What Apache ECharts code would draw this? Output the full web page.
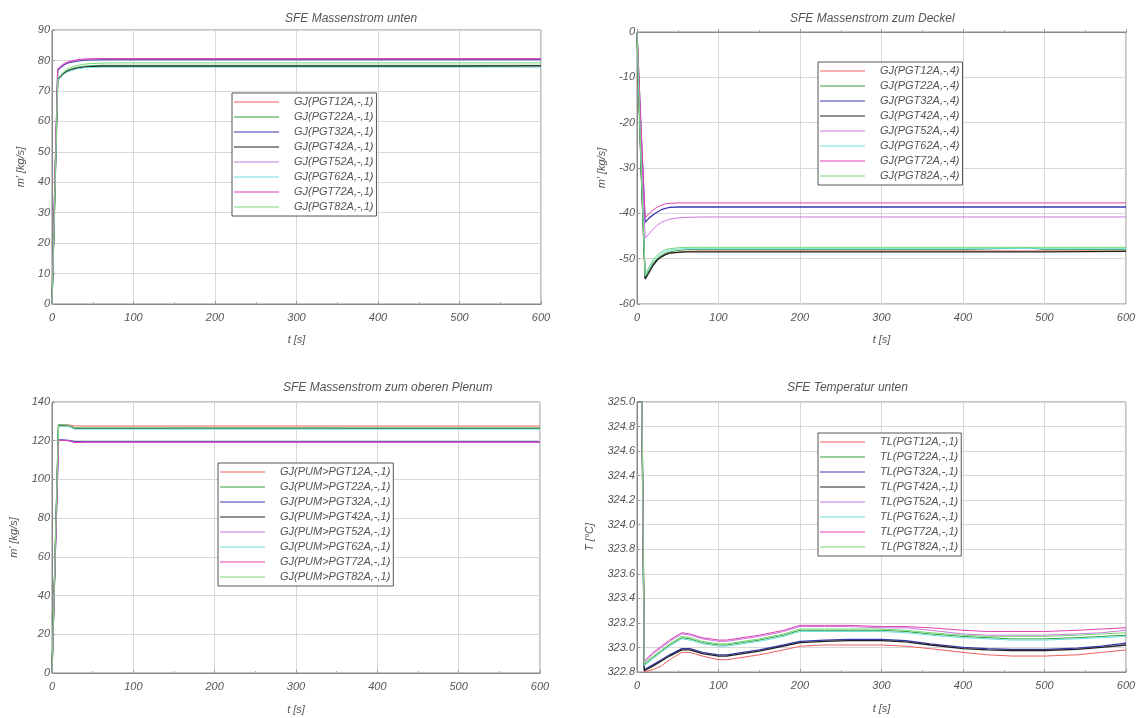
<!DOCTYPE html>
<html><head><meta charset="utf-8">
<script src="https://cdn.jsdelivr.net/npm/echarts@6/dist/echarts.min.js"></script>
<style>html,body{margin:0;padding:0;background:#fff}#c{width:1143px;height:718px}</style>
</head><body><div id="c"></div>
<script>
// ---------- Data ----------
const titles = ['SFE Massenstrom unten', 'SFE Massenstrom zum Deckel', 'SFE Massenstrom zum oberen Plenum', 'SFE Temperatur unten'];
const yNames = ["m' [kg/s]", "m' [kg/s]", "m' [kg/s]", 'T [°C]'];
const xName = 't [s]';
const names1 = ['GJ(PGT12A,-,1)','GJ(PGT22A,-,1)','GJ(PGT32A,-,1)','GJ(PGT42A,-,1)','GJ(PGT52A,-,1)','GJ(PGT62A,-,1)','GJ(PGT72A,-,1)','GJ(PGT82A,-,1)'];
const names2 = ['GJ(PGT12A,-,4)','GJ(PGT22A,-,4)','GJ(PGT32A,-,4)','GJ(PGT42A,-,4)','GJ(PGT52A,-,4)','GJ(PGT62A,-,4)','GJ(PGT72A,-,4)','GJ(PGT82A,-,4)'];
const names3 = ['GJ(PUM>PGT12A,-,1)','GJ(PUM>PGT22A,-,1)','GJ(PUM>PGT32A,-,1)','GJ(PUM>PGT42A,-,1)','GJ(PUM>PGT52A,-,1)','GJ(PUM>PGT62A,-,1)','GJ(PUM>PGT72A,-,1)','GJ(PUM>PGT82A,-,1)'];
const names4 = ['TL(PGT12A,-,1)','TL(PGT22A,-,1)','TL(PGT32A,-,1)','TL(PGT42A,-,1)','TL(PGT52A,-,1)','TL(PGT62A,-,1)','TL(PGT72A,-,1)','TL(PGT82A,-,1)'];

// Panel 1: SFE Massenstrom unten
const t1 = [0, 3, 7, 10, 15, 20, 30, 40, 50, 60, 80, 100, 200, 300, 400, 500, 600];
const p1_12 = [0, 30, 73.6, 74.6, 75.9, 76.7, 77.5, 77.9, 78.0, 78.1, 78.1, 78.1, 78.1, 78.1, 78.1, 78.1, 78.1];
const p1_22 = [0, 31, 73.8, 74.8, 76.0, 76.9, 77.7, 78.1, 78.3, 78.4, 78.4, 78.4, 78.4, 78.4, 78.4, 78.4, 78.4];
const p1_32 = [0, 34, 76.8, 77.6, 78.6, 79.2, 79.8, 80.1, 80.2, 80.3, 80.3, 80.3, 80.3, 80.3, 80.3, 80.3, 80.3];
const p1_42 = [0, 30, 73.5, 74.5, 75.8, 76.6, 77.4, 77.8, 78.0, 78.1, 78.1, 78.1, 78.1, 78.1, 78.1, 78.1, 78.2];
const p1_52 = [0, 35, 77.0, 77.8, 78.8, 79.4, 80.0, 80.3, 80.4, 80.5, 80.5, 80.5, 80.5, 80.5, 80.5, 80.5, 80.5];
const p1_62 = [0, 30, 73.4, 74.4, 75.6, 76.4, 77.2, 77.6, 77.7, 77.8, 77.8, 77.8, 77.8, 77.8, 77.8, 77.8, 77.8];
const p1_72 = [0, 36, 77.2, 78.0, 79.0, 79.6, 80.2, 80.5, 80.6, 80.6, 80.6, 80.6, 80.6, 80.6, 80.6, 80.6, 80.6];
const p1_82 = [0, 31, 74.0, 75.0, 76.4, 77.4, 78.3, 78.8, 79.0, 79.1, 79.2, 79.2, 79.2, 79.2, 79.2, 79.2, 79.2];

// Panel 2: SFE Massenstrom zum Deckel
const t2 = [0, 5, 10, 15, 20, 25, 30, 35, 40, 50, 60, 80, 100, 200, 300, 400, 480, 500, 600];
const p2_12 = [0, -30, -54.0, -52.5, -51.0, -50.0, -49.4, -49.0, -48.8, -48.6, -48.4, -48.3, -48.3, -48.3, -48.3, -48.3, -48.3, -48.3, -48.3];
const p2_22 = [0, -30, -54.2, -52.6, -51.0, -50.0, -49.3, -48.8, -48.5, -48.2, -48.0, -48.0, -48.0, -48.0, -48.0, -48.0, -47.6, -48.0, -48.0];
const p2_32 = [0, -22, -42.0, -41.0, -40.3, -39.7, -39.2, -38.9, -38.7, -38.6, -38.6, -38.6, -38.6, -38.6, -38.6, -38.6, -38.6, -38.6, -38.6];
const p2_42 = [0, -30, -54.5, -53.0, -51.4, -50.3, -49.6, -49.1, -48.8, -48.6, -48.5, -48.5, -48.5, -48.5, -48.5, -48.5, -48.5, -48.5, -48.4];
const p2_52 = [0, -24, -45.5, -44.5, -43.4, -42.6, -42.0, -41.6, -41.3, -41.0, -40.9, -40.8, -40.8, -40.8, -40.8, -40.8, -40.8, -40.8, -40.8];
const p2_62 = [0, -29, -53.8, -52.2, -50.6, -49.6, -48.9, -48.4, -48.1, -47.9, -47.8, -47.8, -47.8, -47.8, -47.8, -47.8, -47.8, -47.8, -47.8];
const p2_72 = [0, -21, -41.0, -40.0, -39.2, -38.6, -38.2, -37.9, -37.8, -37.7, -37.7, -37.7, -37.7, -37.7, -37.7, -37.7, -37.7, -37.7, -37.7];
const p2_82 = [0, -29, -53.5, -51.8, -50.2, -49.2, -48.5, -48.0, -47.8, -47.6, -47.5, -47.5, -47.5, -47.5, -47.5, -47.5, -47.5, -47.5, -47.5];

// Panel 3: SFE Massenstrom zum oberen Plenum
const t3 = [0, 8, 20, 28, 40, 100, 200, 300, 400, 500, 600];
const p3_12 = [0, 128.2, 128.2, 127.6, 127.6, 127.6, 127.6, 127.6, 127.6, 127.6, 127.6];
const p3_22 = [0, 128.0, 127.8, 126.5, 126.5, 126.5, 126.5, 126.5, 126.5, 126.5, 126.5];
const p3_32 = [0, 120.5, 120.2, 119.5, 119.5, 119.5, 119.5, 119.5, 119.5, 119.5, 119.5];
const p3_42 = [0, 128.0, 127.8, 126.4, 126.4, 126.4, 126.5, 126.5, 126.4, 126.4, 126.4];
const p3_52 = [0, 120.4, 120.0, 119.2, 119.3, 119.3, 119.3, 119.3, 119.3, 119.3, 119.3];
const p3_62 = [0, 127.5, 127.5, 126.0, 126.0, 126.0, 126.0, 126.0, 126.0, 126.0, 126.0];
const p3_72 = [0, 120.3, 120.0, 119.0, 119.2, 119.2, 119.2, 119.2, 119.2, 119.2, 119.2];
const p3_82 = [0, 128.3, 128.0, 126.7, 126.7, 126.7, 126.7, 126.7, 126.7, 126.7, 126.7];

// Panel 4: SFE Temperatur unten
const t4 = [0, 6, 9, 20, 30, 40, 55, 65, 80, 100, 110, 130, 150, 180, 200, 230, 260, 300, 330, 360, 400, 430, 460, 500, 540, 570, 600];
const p4_12 = [325.0, 325.0, 322.80, 322.82, 322.85, 322.90, 322.96, 322.96, 322.93, 322.90, 322.90, 322.92, 322.94, 322.98, 323.01, 323.02, 323.02, 323.02, 323.01, 322.99, 322.96, 322.94, 322.93, 322.93, 322.94, 322.96, 322.98];
const p4_22 = [325.0, 325.0, 322.86, 322.92, 322.97, 323.02, 323.08, 323.07, 323.04, 323.02, 323.02, 323.04, 323.06, 323.10, 323.14, 323.14, 323.14, 323.14, 323.13, 323.11, 323.09, 323.08, 323.07, 323.07, 323.08, 323.09, 323.10];
const p4_32 = [325.0, 325.0, 322.82, 322.86, 322.90, 322.94, 322.99, 322.99, 322.96, 322.94, 322.94, 322.96, 322.98, 323.02, 323.05, 323.06, 323.065, 323.065, 323.055, 323.03, 323.00, 322.99, 322.985, 322.985, 322.995, 323.01, 323.035];
const p4_42 = [325.0, 325.0, 322.81, 322.85, 322.89, 322.93, 322.98, 322.98, 322.95, 322.93, 322.93, 322.95, 322.97, 323.01, 323.04, 323.05, 323.055, 323.055, 323.045, 323.02, 322.99, 322.98, 322.975, 322.975, 322.985, 323.00, 323.02];
const p4_52 = [325.0, 325.0, 322.88, 322.95, 323.00, 323.05, 323.11, 323.10, 323.07, 323.05, 323.05, 323.07, 323.09, 323.13, 323.17, 323.17, 323.17, 323.16, 323.16, 323.14, 323.11, 323.10, 323.10, 323.10, 323.11, 323.12, 323.14];
const p4_62 = [325.0, 325.0, 322.85, 322.91, 322.96, 323.01, 323.07, 323.06, 323.03, 323.01, 323.01, 323.03, 323.05, 323.09, 323.13, 323.13, 323.13, 323.13, 323.12, 323.10, 323.08, 323.07, 323.06, 323.06, 323.07, 323.08, 323.09];
const p4_72 = [325.0, 325.0, 322.89, 322.96, 323.01, 323.06, 323.12, 323.11, 323.08, 323.06, 323.06, 323.08, 323.10, 323.14, 323.18, 323.18, 323.18, 323.17, 323.17, 323.16, 323.14, 323.13, 323.13, 323.13, 323.14, 323.15, 323.16];
const p4_82 = [325.0, 325.0, 322.87, 322.93, 322.98, 323.03, 323.09, 323.08, 323.05, 323.03, 323.03, 323.05, 323.07, 323.11, 323.15, 323.15, 323.15, 323.15, 323.14, 323.12, 323.10, 323.09, 323.09, 323.09, 323.10, 323.11, 323.12];

const colors = ['#f06060', '#30a040', '#3838b0', '#202020', '#c878e0', '#70e0e0', '#e040b0', '#78d878'];

// ---------- Build ----------
const panels = [
  {t: t1, vals: [p1_12,p1_22,p1_32,p1_42,p1_52,p1_62,p1_72,p1_82], names: names1, ymin: 0, ymax: 90, yint: 10, dec: 0,
   grid: {left: 52, top: 30, width: 489, height: 274}, title: {left: 285, top: 13}, legend: {left: 232, top: 93}, yGap: 26, xGap: 30},
  {t: t2, vals: [p2_12,p2_22,p2_32,p2_42,p2_52,p2_62,p2_72,p2_82], names: names2, ymin: -60, ymax: 0, yint: 10, dec: 0,
   grid: {left: 637, top: 32, width: 489, height: 272}, title: {left: 790, top: 13}, legend: {left: 818, top: 62}, yGap: 30, xGap: 30},
  {t: t3, vals: [p3_12,p3_22,p3_32,p3_42,p3_52,p3_62,p3_72,p3_82], names: names3, ymin: 0, ymax: 140, yint: 20, dec: 0,
   grid: {left: 52, top: 402, width: 488, height: 271}, title: {left: 283, top: 382}, legend: {left: 218, top: 463}, yGap: 33, xGap: 31},
  {t: t4, vals: [p4_12,p4_22,p4_32,p4_42,p4_52,p4_62,p4_72,p4_82], names: names4, ymin: 322.8, ymax: 325.0, yint: 0.2, dec: 1,
   grid: {left: 637, top: 402, width: 489, height: 270}, title: {left: 787, top: 382}, legend: {left: 818, top: 433}, yGap: 42, xGap: 31}
];

const font = 'Liberation Sans, Arial, sans-serif';
const txt = {fontFamily: font, fontStyle: 'italic', color: '#555', fontSize: 11};
const option = {animation: false, backgroundColor: '#fff', title: [], grid: [], xAxis: [], yAxis: [], legend: [], series: []};

panels.forEach((p, i) => {
  option.title.push({text: titles[i], left: p.title.left, top: p.title.top, padding: 0,
    textStyle: {fontFamily: font, fontStyle: 'italic', fontWeight: 'normal', color: '#555', fontSize: 12}});
  option.grid.push(Object.assign({show: true, borderColor: '#888', borderWidth: 1, backgroundColor: '#fff'}, p.grid));
  option.xAxis.push({type: 'value', gridIndex: i, min: 0, max: 600, interval: 100,
    name: xName, nameLocation: 'middle', nameGap: p.xGap, nameTextStyle: txt,
    axisLine: {lineStyle: {color: '#888'}}, axisTick: {show: true, inside: true, length: 3, lineStyle: {color: '#999'}},
    minorTick: {show: true, splitNumber: 2, length: 2, lineStyle: {color: '#aaa'}},
    axisLabel: Object.assign({margin: 8}, txt),
    splitLine: {show: true, lineStyle: {color: '#d8d8d8', width: 1}}});
  option.yAxis.push({type: 'value', gridIndex: i, min: p.ymin, max: p.ymax, interval: p.yint,
    name: yNames[i], nameLocation: 'middle', nameGap: p.yGap, nameTextStyle: txt,
    axisLine: {lineStyle: {color: '#888'}}, axisTick: {show: true, inside: true, length: 3, lineStyle: {color: '#999'}},
    axisLabel: Object.assign({margin: 2, formatter: v => v.toFixed(p.dec)}, txt),
    splitLine: {show: true, lineStyle: {color: '#d8d8d8', width: 1}}});
  option.legend.push({orient: 'vertical', left: p.legend.left, top: p.legend.top, data: p.names,
    backgroundColor: '#fff', borderColor: '#555', borderWidth: 1, padding: [3, 3, 3, 2],
    icon: 'rect', itemWidth: 45, itemHeight: 1.2, itemGap: 3, selectedMode: false,
    textStyle: Object.assign({lineHeight: 12, height: 12, padding: [0, 0, 0, 10]}, txt)});
  p.vals.forEach((v, k) => {
    option.series.push({type: 'line', name: p.names[k], xAxisIndex: i, yAxisIndex: i,
      data: p.t.map((tt, j) => [tt, v[j]]), symbol: 'none', color: colors[k],
      lineStyle: {width: (k === 3 || k === 2) ? 1.3 : 1, color: colors[k]}, z: 2 + k});
  });
});

const chart = echarts.init(document.getElementById('c'), null, {renderer: 'canvas'});
chart.setOption(option);
</script></body></html>
